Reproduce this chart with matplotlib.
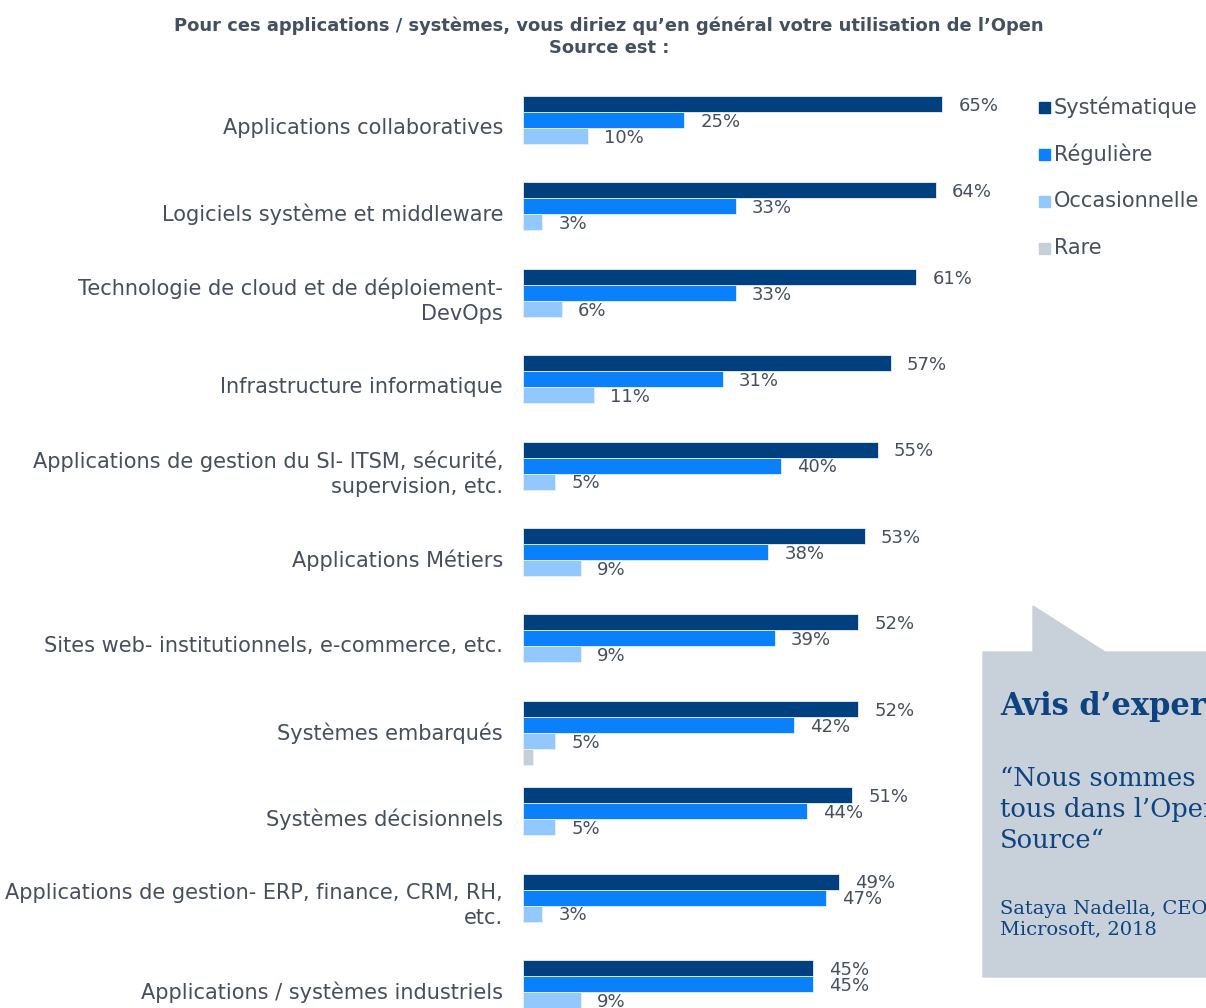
import matplotlib
matplotlib.use("Agg")
import matplotlib.pyplot as plt
from matplotlib.patches import Polygon, Rectangle
import numpy as np

categories = [
    "Applications collaboratives",
    "Logiciels système et middleware",
    "Technologie de cloud et de déploiement-\nDevOps",
    "Infrastructure informatique",
    "Applications de gestion du SI- ITSM, sécurité,\nsupervision, etc.",
    "Applications Métiers",
    "Sites web- institutionnels, e-commerce, etc.",
    "Systèmes embarqués",
    "Systèmes décisionnels",
    "Applications de gestion- ERP, finance, CRM, RH,\netc.",
    "Applications / systèmes industriels",
]
series_names = ["Systématique", "Régulière", "Occasionnelle", "Rare"]
systematique = [65, 64, 61, 57, 55, 53, 52, 52, 51, 49, 45]
reguliere = [25, 33, 33, 31, 40, 38, 39, 42, 44, 47, 45]
occasionnelle = [10, 3, 6, 11, 5, 9, 9, 5, 5, 3, 9]
rare = [0, 0, 0, 0, 0, 0, 0, 1.5, 0, 0, 0]
show_label = [True, True, True, False]

colors = ["#00407e", "#0a80fb", "#93c8fe", "#c6ced8"]
text_color = "#454f5e"
title_color = "#44505f"
quote_color = "#0d4380"

W, H = 1206, 1008
fig = plt.figure(figsize=(W / 100, H / 100), dpi=100)

# bar area: x=0 at pixel 523, ~6.45 px per percent; groups every 86.4 px
x0, px_per = 523, 6.45
ax_w = 70 * px_per
top_px = 128 - 43.2
ax = fig.add_axes([x0 / W, 0, ax_w / W, (H - top_px) / H])
ax.set_xlim(0, 70)
ax.set_ylim((H - 128) / 86.4, -0.5)
ax.axis("off")

bh = 16 / 86.4
y = np.arange(len(categories))
all_series = [systematique, reguliere, occasionnelle, rare]
for k, (vals, col) in enumerate(zip(all_series, colors)):
    vals = np.asarray(vals, dtype=float)
    yy = y + (k - 1.5) * bh
    keep = vals > 0
    ax.barh(yy[keep], vals[keep], height=bh, color=col,
            edgecolor="#e8f0fa", linewidth=0.6)
    if show_label[k]:
        for v, yv in zip(vals[keep], yy[keep]):
            ax.text(v + 2.5, yv + 0.02, f"{v:g}%", ha="left", va="center",
                    fontsize=13, color=text_color, clip_on=False)

for i, c in enumerate(categories):
    ax.text(-3.1, i, c, ha="right", va="center", fontsize=15,
            color=text_color, linespacing=1.35, clip_on=False)

fig.text(609 / W, 1 - 37 / H,
         "Pour ces applications / systèmes, vous diriez qu\u2019en général votre utilisation de l\u2019Open\nSource est :",
         ha="center", va="center", fontsize=12.9, fontweight="bold",
         color=title_color, linespacing=1.3)

# legend
leg_y = [107, 154, 201, 248]
for name, col, ly in zip(series_names, colors, leg_y):
    fig.patches.append(Rectangle((1039 / W, 1 - (ly + 6) / H), 11 / W, 11 / H,
                                 transform=fig.transFigure, color=col))
    fig.text(1054 / W, 1 - ly / H, name, ha="left", va="center",
             fontsize=15, color=text_color)

# quote callout
box = [(983, 652), (1033, 652), (1033, 606), (1105, 652), (1210, 652),
       (1210, 977), (983, 977)]
fig.patches.append(Polygon([(px / W, 1 - py / H) for px, py in box],
                           closed=True, transform=fig.transFigure,
                           color="#c8d0d9", zorder=0))
fig.text(1000 / W, 1 - 706 / H, "Avis d\u2019expert", ha="left", va="center",
         fontsize=22, fontweight="bold", family="DejaVu Serif", color=quote_color)
fig.text(1000 / W, 1 - 809 / H, "\u201cNous sommes\ntous dans l\u2019Open\nSource\u201c",
         ha="left", va="center", fontsize=18.5, family="DejaVu Serif",
         color=quote_color, linespacing=1.3)
fig.text(1000 / W, 1 - 919 / H, "Sataya Nadella, CEO\nMicrosoft, 2018",
         ha="left", va="center", fontsize=14, family="DejaVu Serif",
         color=quote_color, linespacing=1.2)

fig.savefig("out.png", dpi=100)
